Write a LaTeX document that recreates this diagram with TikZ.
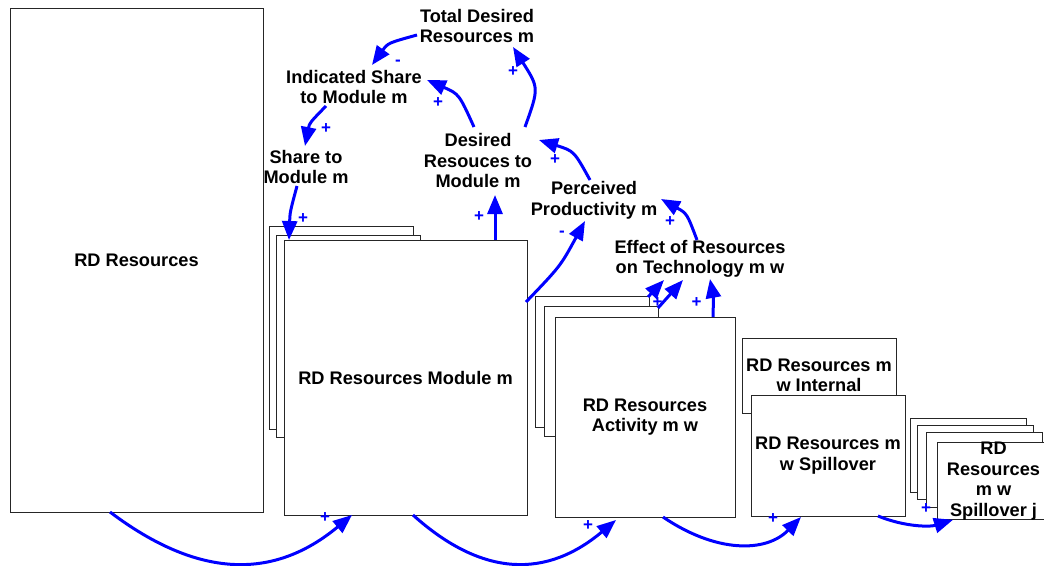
\documentclass[tikz,border=0pt]{standalone}
\usepackage{fontspec}
\setmainfont{Liberation Sans}
\usetikzlibrary{arrows.meta,calc}
\definecolor{arrblue}{RGB}{0,0,255}
\begin{document}
\begin{tikzpicture}[x=1pt,y=-1pt,
  every node/.style={inner sep=0pt, outer sep=0pt},
  box/.style={draw=black!85, line width=1pt, fill=white, rectangle, anchor=north west},
  lbl/.style={font=\fontsize{18.2}{20.5}\selectfont\bfseries, align=center, text=black},
  pol/.style={font=\fontsize{17}{17}\selectfont\bfseries, text=arrblue},
  arr/.style={draw=arrblue, line width=3pt, -{Triangle[length=19pt,width=15pt]}},
]
\useasboundingbox (0,0) rectangle (1044,565);

% stocks
\node[box, lbl, minimum width=253pt, minimum height=504pt] (rd) at (10,8) {RD Resources};

\node[box, minimum width=144pt, minimum height=203pt] (modb1) at (269,226) {};
\node[box, minimum width=144pt, minimum height=202pt] (modb2) at (276,235) {};
\node[box, lbl, minimum width=243pt, minimum height=275pt] (mod) at (284,240) {RD Resources Module m};

\node[box, minimum width=114pt, minimum height=131pt] (actb1) at (535,296) {};
\node[box, minimum width=114pt, minimum height=130pt] (actb2) at (544,306) {};
\node[box, lbl, minimum width=180pt, minimum height=200pt] (act) at (555,317) {RD Resources\\Activity m w};

\node[box, lbl, minimum width=154pt, minimum height=75pt] (int) at (742,338) {RD Resources m\\w Internal};
\node[box, lbl, minimum width=154pt, minimum height=121pt] (spl) at (751,395) {RD Resources m\\w Spillover};

\node[box, minimum width=116pt, minimum height=74pt] (spjb1) at (910,418) {};
\node[box, minimum width=116pt, minimum height=74pt] (spjb2) at (917,425) {};
\node[box, minimum width=116pt, minimum height=75pt] (spjb3) at (926,432) {};
\node[box, lbl, minimum width=113pt, minimum height=74pt] (spj) at (937,442) {RD\\Resources\\m w\\Spillover j};

% auxiliaries
\node[lbl] (tdr) at (477,26) {Total Desired\\Resources m};
\node[lbl] (isc) at (354,87) {Indicated Share\\to Module m};
\node[lbl] (stm) at (306,167) {Share to\\Module m};
\node[lbl] (drm) at (478,160.5) {Desired\\Resouces to\\Module m};
\node[lbl] (ppm) at (594,200.5) {Perceived\\Productivity m};
\node[lbl] (eor) at (700,259) {Effect of Resources\\on Technology m w};

% connectors
\draw[arr] ([shift={(-60,9)}]tdr.center) .. controls (388,43) .. ([shift={(18,-22)}]isc.center);
\draw[arr] ([shift={(-28,19)}]isc.center) .. controls (309.5,123) .. ([shift={(-1,-21)}]stm.center);
\draw[arr] ([shift={(-9,19)}]stm.center) .. controls (290,212) .. ([shift={(5,0)}]mod.north west);
\draw[arr] ([shift={(-4,-33.5)}]drm.center) .. controls (459,94) .. ([shift={(73,-7)}]isc.center);
\draw[arr] ([shift={(47,-33.5)}]drm.center) .. controls (539,88) .. ([shift={(36,21)}]tdr.center);
\draw[arr] ([shift={(211,0)}]mod.north west) -- ([shift={(17,34.5)}]drm.center);
\draw[arr] ([shift={(-4,-20.5)}]ppm.center) .. controls (574,151) .. ([shift={(61,-20.5)}]drm.center);
\draw[arr] ([shift={(-1,62)}]mod.north east) .. controls (560.5,266) .. ([shift={(-9,20.5)}]ppm.center);
\draw[arr] ([shift={(-3,-19)}]eor.center) .. controls (687,213.5) .. ([shift={(67,-1.5)}]ppm.center);
\draw[arr] ([shift={(-1,1)}]actb1.north east) -- ([shift={(-36,21)}]eor.center);
\draw[arr] ([shift={(0,2)}]actb2.north east) -- ([shift={(-17,21)}]eor.center);
\draw[arr] ([shift={(158,0)}]act.north west) .. controls (713.5,298) .. ([shift={(10,20)}]eor.center);
\draw[arr] ([shift={(100,0)}]rd.south west) .. controls (199.5,579.5) and (274.4,579.5) .. ([shift={(68,0)}]mod.south west);
\draw[arr] ([shift={(129,0)}]mod.south west) .. controls (483,578) and (547,578) .. ([shift={(61,3)}]act.south west);
\draw[arr] ([shift={(108,0)}]act.south west) .. controls (716,553) and (766,553) .. ([shift={(50,1)}]spl.south west);
\draw[arr] ([shift={(-27,0)}]spl.south east) .. controls (905,527) and (930,527) .. ([shift={(16,0)}]spj.south west);

% polarities
\node[pol] (p1) at (398,63) {-};
\node[pol] (p2) at (326,129) {+};
\node[pol] (p3) at (303,219) {+};
\node[pol] (p4) at (438,103) {+};
\node[pol] (p5) at (513,72) {+};
\node[pol] (p6) at (479,217) {+};
\node[pol] (p7) at (555,160) {+};
\node[pol] (p8) at (562,234) {-};
\node[pol] (p9) at (670,222) {+};
\node[pol] (p10) at (657.7,303) {+};
\node[pol] (p11) at (696.7,303) {+};
\node[pol] (p12) at (325,518) {+};
\node[pol] (p13) at (588,526) {+};
\node[pol] (p14) at (773,519) {+};
\node[pol] (p15) at (926,509) {+};
\end{tikzpicture}
\end{document}
